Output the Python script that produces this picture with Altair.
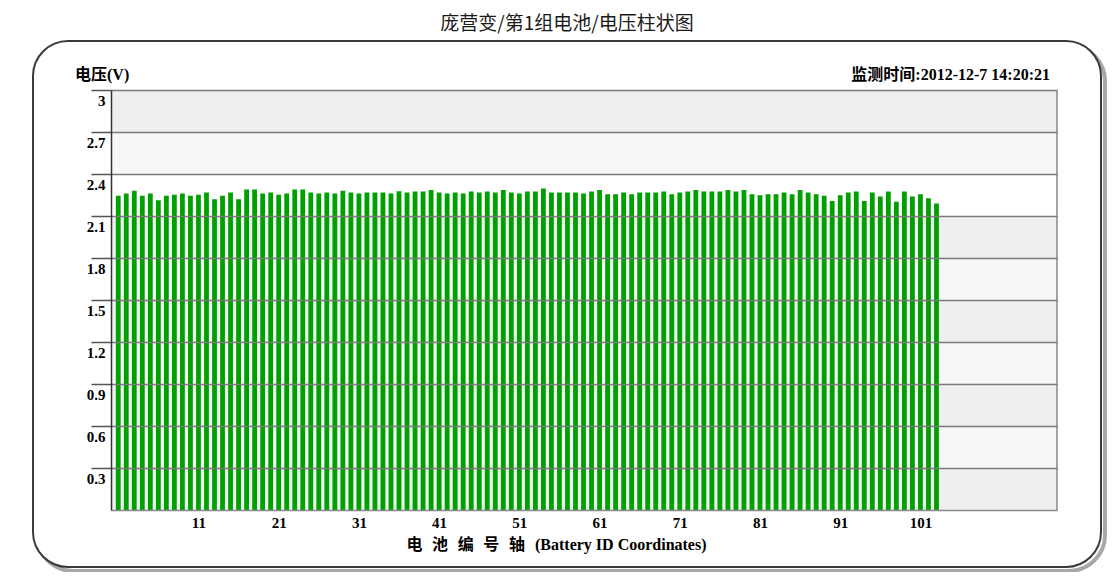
import altair as alt
import pandas as pd

# ---- data ----
battery_ids = list(range(1, 104))
voltages = [
    2.244, 2.261, 2.280, 2.244, 2.261, 2.213, 2.244, 2.251, 2.261, 2.244,
    2.251, 2.268, 2.220, 2.244, 2.268, 2.220, 2.290, 2.290, 2.261, 2.268,
    2.251, 2.261, 2.290, 2.290, 2.268, 2.261, 2.268, 2.261, 2.280, 2.268,
    2.261, 2.268, 2.268, 2.268, 2.261, 2.277, 2.268, 2.275, 2.275, 2.285,
    2.268, 2.261, 2.268, 2.261, 2.275, 2.268, 2.275, 2.268, 2.285, 2.268,
    2.261, 2.275, 2.275, 2.297, 2.268, 2.268, 2.268, 2.268, 2.261, 2.275,
    2.285, 2.256, 2.256, 2.268, 2.256, 2.268, 2.268, 2.268, 2.275, 2.256,
    2.268, 2.275, 2.285, 2.275, 2.275, 2.275, 2.285, 2.275, 2.285, 2.256,
    2.249, 2.256, 2.256, 2.268, 2.256, 2.285, 2.268, 2.256, 2.244, 2.208,
    2.249, 2.268, 2.275, 2.208, 2.268, 2.239, 2.275, 2.201, 2.275, 2.239,
    2.256, 2.227, 2.189,
]
y_ticks = [0.3, 0.6, 0.9, 1.2, 1.5, 1.8, 2.1, 2.4, 2.7, 3.0]
x_ticks = [11, 21, 31, 41, 51, 61, 71, 81, 91, 101]
band_shades = ["dark", "light", "dark", "light", "dark", "light", "dark", "white", "light", "dark"]

title_text = "庞营变/第1组电池/电压柱状图"
y_title_text = "电压(V)"
time_text = "监测时间:2012-12-7 14:20:21"
x_title_cn = "电 池 编 号 轴"
x_title_en = "(Battery ID Coordinates)"

W, H = 946, 420
SERIF = "Liberation Serif, Noto Sans CJK SC"
CJK = "Noto Sans CJK SC"
WIDE_CJK = "DejaVu Sans Mono, Noto Sans CJK SC"

bars_df = pd.DataFrame({"id": battery_ids, "v": voltages})
bands_df = pd.DataFrame({
    "lo": [0.0] + y_ticks[:-1],
    "hi": y_ticks,
    "shade": band_shades,
})
one = pd.DataFrame({"a": [0]})

xscale = alt.Scale(domain=[0.72, 117.4], nice=False, zero=False)
yscale = alt.Scale(domain=[0, 3], nice=False)

# outer rounded frame (with shadow)
shadow = alt.Chart(one).mark_rect(
    cornerRadius=36, fillOpacity=0, stroke="#a8a8a8", strokeWidth=4
).encode(x=alt.value(-74), x2=alt.value(994), y=alt.value(-45), y2=alt.value(481))

frame = alt.Chart(one).mark_rect(
    cornerRadius=35, fill="white", stroke="#3a3a3a", strokeWidth=2
).encode(x=alt.value(-78), x2=alt.value(990), y=alt.value(-49), y2=alt.value(477))

bands = alt.Chart(bands_df).mark_rect().encode(
    x=alt.value(0), x2=alt.value(W),
    y=alt.Y("lo:Q", scale=yscale),
    y2="hi:Q",
    color=alt.Color("shade:N", scale=alt.Scale(domain=["dark", "light", "white"],
                                               range=["#efefef", "#f7f7f7", "#ffffff"]),
                    legend=None),
)

bars = alt.Chart(bars_df).mark_bar(width=4.8, color="#00a000").encode(
    x=alt.X("id:Q", scale=xscale,
            axis=alt.Axis(values=x_ticks, ticks=False, grid=False, title=None,
                          domainColor="#888888", domainWidth=1.5,
                          labelFont=SERIF, labelFontSize=15, labelFontWeight="bold",
                          labelColor="#000000", labelPadding=5, labelFlush=False,
                          zindex=1)),
    y=alt.Y("v:Q", scale=yscale,
            axis=alt.Axis(values=y_ticks, format="~g", grid=True, gridColor="#7a7a7a",
                          gridWidth=1.5, tickSize=20, tickColor="#555555", tickWidth=1.5,
                          domainColor="#333333", domainWidth=1.5, title=None,
                          labelFont=SERIF, labelFontSize=15, labelFontWeight="bold",
                          labelColor="#000000", labelPadding=-14, labelOffset=10,
                          labelFlush=False, zindex=1)),
)

right_border = alt.Chart(one).mark_rule(color="#888888", strokeWidth=1.5).encode(
    x=alt.value(W), y=alt.value(0), y2=alt.value(H)
)

def label(txt, x, y, align, size, weight, font, color="#000000"):
    return alt.Chart(pd.DataFrame({"t": [txt]})).mark_text(
        align=align, baseline="middle", fontSize=size, fontWeight=weight,
        font=font, color=color
    ).encode(text="t:N", x=alt.value(x), y=alt.value(y))

title = label(title_text, 456, -66, "center", 19, "normal", CJK, "#1a1a1a")
ytitle = label(y_title_text, -36, -15, "left", 16, "bold", SERIF)
ttime = label(time_text, 939, -15, "right", 16, "bold", SERIF)
xtitle_cn = label(x_title_cn, 414, 455, "right", 16, "bold", WIDE_CJK)
xtitle_en = label(x_title_en, 424, 455, "left", 16, "bold", SERIF)

chart = alt.layer(
    shadow, frame, bands, bars, right_border, title, ytitle, ttime, xtitle_cn, xtitle_en
).properties(
    width=W, height=H,
    padding={"left": 103, "top": 82, "right": 50, "bottom": 62},
    autosize=alt.AutoSizeParams(type="none"),
).configure_view(strokeWidth=0)

chart.save("out.html", embed_options={"renderer": "svg", "actions": False})
